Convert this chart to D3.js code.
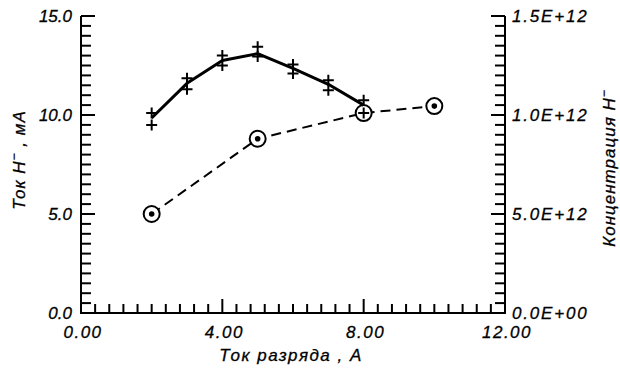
<!DOCTYPE html>
<html>
<head>
<meta charset="utf-8">
<script src="https://cdn.jsdelivr.net/npm/d3@7"></script>
<style>
  body { margin: 0; background: #fff; }
  svg text { font-family: "Liberation Sans", Arial, sans-serif; font-style: italic; fill: #000; }
</style>
</head>
<body>
<svg id="chart" width="620" height="371"></svg>
<script>
// discharge current, A
const dischargeCurrent = [2, 3, 4, 5, 6, 7, 8];
// H- current, mA (fitted line and the two measured crosses at each point)
const hCurrentLine  = [9.85, 11.6, 12.75, 13.1, 12.35, 11.55, 10.5];
const hCurrentUpper = [10.1, 11.85, 13.0, 13.45, 12.55, 11.75, 10.75];
const hCurrentLower = [9.5, 11.3, 12.5, 12.95, 12.1, 11.25, 10.1];
// H- concentration
const concCurrent = [2, 5, 8, 10];
const concValues  = [0.5e12, 0.88e12, 1.01e12, 1.045e12];

const xTicks = [0, 4, 8, 12];
const xMinorTicks = d3.range(0, 12.01, 0.4);
const yLeftTicks = [0, 5, 10, 15];
const yMinorTicks = d3.range(0, 15.01, 0.5);
const yRightTicks = [0, 0.5e12, 1.0e12, 1.5e12];
const yRightLabels = ["0.0E+00", "5.0E+12", "1.0E+12", "1.5E+12"];

const svg = d3.select("#chart");
const plotLeft = 81, plotRight = 505, plotTop = 16, plotBottom = 313;

const x = d3.scaleLinear().domain([0, 12]).range([plotLeft, plotRight]);
const yL = d3.scaleLinear().domain([0, 15]).range([plotBottom, plotTop]);
const yR = d3.scaleLinear().domain([0, 1.5e12]).range([plotBottom, plotTop]);

// concentration dashed line with circle markers
const concData = concCurrent.map((c, i) => ({ x: c, y: concValues[i] }));
svg.append("path")
    .datum(concData)
    .attr("fill", "none")
    .attr("stroke", "#000")
    .attr("stroke-width", 2)
    .attr("stroke-dasharray", "10,6")
    .attr("d", d3.line().x(d => x(d.x)).y(d => yR(d.y)));

svg.selectAll(".concCircle")
    .data(concData)
    .enter()
    .append("circle")
    .attr("class", "concCircle")
    .attr("cx", d => x(d.x))
    .attr("cy", d => yR(d.y))
    .attr("r", 8)
    .attr("fill", "#fff")
    .attr("stroke", "#000")
    .attr("stroke-width", 2);

svg.selectAll(".concDot")
    .data(concData.filter(d => d.x !== 8))
    .enter()
    .append("circle")
    .attr("class", "concDot")
    .attr("cx", d => x(d.x))
    .attr("cy", d => yR(d.y))
    .attr("r", 2.8)
    .attr("fill", "#000");

// H- current solid line
const lineData = dischargeCurrent.map((c, i) => ({ x: c, y: hCurrentLine[i] }));
svg.append("path")
    .datum(lineData)
    .attr("fill", "none")
    .attr("stroke", "#000")
    .attr("stroke-width", 3)
    .attr("stroke-linejoin", "round")
    .attr("d", d3.line().x(d => x(d.x)).y(d => yL(d.y)));

// crosses
const crossData = [];
dischargeCurrent.forEach((c, i) => {
    crossData.push({ x: c, y: hCurrentUpper[i] });
    crossData.push({ x: c, y: hCurrentLower[i] });
});
const cs = 5.5;
svg.selectAll(".cross")
    .data(crossData)
    .enter()
    .append("path")
    .attr("class", "cross")
    .attr("d", d => {
        const px = x(d.x), py = yL(d.y);
        return `M${px - cs},${py}H${px + cs}M${px},${py - cs}V${py + cs}`;
    })
    .attr("stroke", "#000")
    .attr("stroke-width", 2);

// axes drawn on top
const axes = svg.append("g").attr("class", "axes");

axes.append("path")
    .attr("d", `M${plotLeft},${yL(15)}V${yL(0)}H${plotRight}V${yR(1.5e12)}`)
    .attr("fill", "none")
    .attr("stroke", "#000")
    .attr("stroke-width", 2);

// tick marks pointing inward; every tenth is a long major tick
axes.selectAll(".xTick")
    .data(xMinorTicks)
    .enter()
    .append("line")
    .attr("class", "xTick")
    .attr("x1", d => x(d))
    .attr("x2", d => x(d))
    .attr("y1", plotBottom)
    .attr("y2", (d, i) => plotBottom - (i % 10 === 0 ? 14 : 9))
    .attr("stroke", "#000")
    .attr("stroke-width", 2);

axes.selectAll(".yLTick")
    .data(yMinorTicks)
    .enter()
    .append("line")
    .attr("class", "yLTick")
    .attr("x1", plotLeft)
    .attr("x2", (d, i) => plotLeft + (i % 10 === 0 ? 14 : 10))
    .attr("y1", d => yL(d))
    .attr("y2", d => yL(d))
    .attr("stroke", "#000")
    .attr("stroke-width", 2);

axes.selectAll(".yRTick")
    .data(yMinorTicks.map(v => v / 15 * 1.5e12))
    .enter()
    .append("line")
    .attr("class", "yRTick")
    .attr("x1", plotRight)
    .attr("x2", (d, i) => plotRight - (i % 10 === 0 ? 14 : 10))
    .attr("y1", d => yR(d))
    .attr("y2", d => yR(d))
    .attr("stroke", "#000")
    .attr("stroke-width", 2);

// tick labels
axes.selectAll(".xLabel")
    .data(xTicks)
    .enter()
    .append("text")
    .attr("class", "xLabel")
    .attr("x", d => x(d) + 2)
    .attr("y", 338)
    .attr("text-anchor", "middle")
    .attr("font-size", 17)
    .attr("letter-spacing", 1.5)
    .attr("stroke", "#000")
    .attr("stroke-width", 0.3)
    .text(d3.format(".2f"));

axes.selectAll(".yLLabel")
    .data(yLeftTicks)
    .enter()
    .append("text")
    .attr("class", "yLLabel")
    .attr("x", plotLeft - 9)
    .attr("y", d => yL(d) + 6)
    .attr("text-anchor", "end")
    .attr("font-size", 17)
    .attr("stroke", "#000")
    .attr("stroke-width", 0.3)
    .text(d3.format(".1f"));

axes.selectAll(".yRLabel")
    .data(yRightTicks)
    .enter()
    .append("text")
    .attr("class", "yRLabel")
    .attr("x", plotRight + 7)
    .attr("y", d => yR(d) + 6)
    .attr("font-size", 17)
    .attr("letter-spacing", 1.8)
    .attr("stroke", "#000")
    .attr("stroke-width", 0.3)
    .text((d, i) => yRightLabels[i]);

// axis titles
svg.append("text")
    .attr("x", 291)
    .attr("y", 361)
    .attr("text-anchor", "middle")
    .attr("font-size", 17)
    .attr("letter-spacing", 1.5)
    .attr("stroke", "#000")
    .attr("stroke-width", 0.3)
    .text("Ток разряда , А");

const lt = svg.append("text")
    .attr("transform", "translate(25,160) rotate(-90)")
    .attr("text-anchor", "middle")
    .attr("font-size", 17)
    .attr("letter-spacing", 1)
    .attr("stroke", "#000")
    .attr("stroke-width", 0.3);
lt.append("tspan").text("Ток H");
lt.append("tspan").attr("dy", -7).attr("font-size", 12).text("\u2212");
lt.append("tspan").attr("dy", 7).text(" , мА");

const rt = svg.append("text")
    .attr("transform", "translate(615,168) rotate(-90)")
    .attr("text-anchor", "middle")
    .attr("font-size", 17)
    .attr("letter-spacing", 1)
    .attr("stroke", "#000")
    .attr("stroke-width", 0.3);
rt.append("tspan").text("Концентрация H");
rt.append("tspan").attr("dy", -7).attr("font-size", 12).text("\u2212");
</script>
</body>
</html>
